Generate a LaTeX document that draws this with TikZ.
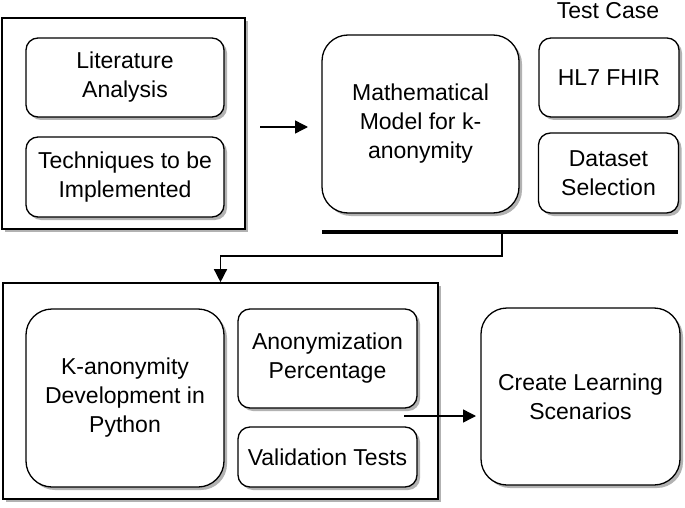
\documentclass[tikz,border=0pt]{standalone}
\usepackage{fontspec}
\setmainfont{Liberation Sans}
\usetikzlibrary{arrows.meta, shadows}

\begin{document}
\begin{tikzpicture}
      [x=1pt,y=-1pt
      ,every node/.style={font=\fontsize{23}{29}\selectfont,align=center,inner sep=0}
      ,shd/.style={drop shadow={shadow xshift=3pt,shadow yshift=-3pt,fill=black!30,opacity=1}}
      ,frm/.style={draw,line width=1.6pt,fill=white,shd}
      ,box/.style={draw,line width=1.3pt,fill=white,rounded corners=12pt,shd}
      ,bigbox/.style={box,rounded corners=26pt}
      ,lin/.style={line width=1.4pt,-{Triangle[length=13pt,width=13pt]}}]
        \useasboundingbox (0,0) rectangle (685,508);
        \coordinate (A0) at (123.5,123.5);
        \coordinate (A1) at (220.5,391);
        % upper part
        \node[frm,minimum width=243pt,minimum height=211pt] (topfrm) at (A0){};
        \node[box,minimum width=198pt,minimum height=79pt] (lit) at (125,77.5){Literature\\Analysis};
        \node[box,minimum width=198pt,minimum height=80pt] (tech) at (125,177){Techniques to be\\Implemented};
        \node[bigbox,minimum width=197pt,minimum height=178pt] (math) at (420.5,124){Mathematical\\Model for k-\\anonymity};
        \node (test) at (608,11){Test Case};
        \node[box,minimum width=140pt,minimum height=79pt] (hl7) at (609,77.5){HL7 FHIR};
        \node[box,minimum width=140pt,minimum height=80pt] (data) at (608.5,173){Dataset\\Selection};
        \coordinate (barL) at (322,232);
        \coordinate (barR) at (678,232);
        \coordinate (barM) at (502,232);
        \draw[line width=4pt] (barL) -- (barR);
        % lower part
        \node[frm,minimum width=435pt,minimum height=216pt] (lowfrm) at (A1){};
        \node[bigbox,minimum width=198pt,minimum height=178pt] (kanon) at (125,398){K-anonymity\\Development in\\Python};
        \node[box,minimum width=179pt,minimum height=99pt] (perc) at (327.5,358.5){Anonymization\\Percentage};
        \node[box,minimum width=179pt,minimum height=60pt] (valid) at (327.5,457){Validation Tests};
        \node[bigbox,minimum width=199pt,minimum height=177pt] (learn) at (580.5,396.5){Create Learning\\Scenarios};
        % connectors
        \coordinate (a1s) at (260,127);
        \coordinate (a1e) at (308,127);
        \coordinate (a2s) at (404,416);
        \coordinate (a2e) at (476,416);
        \draw[lin] (a1s) -- (a1e);
        \draw[lin] (barM) -- (502,256) -| (lowfrm.north);
        \draw[lin] (a2s) -- (a2e);
\end{tikzpicture}
\end{document}
